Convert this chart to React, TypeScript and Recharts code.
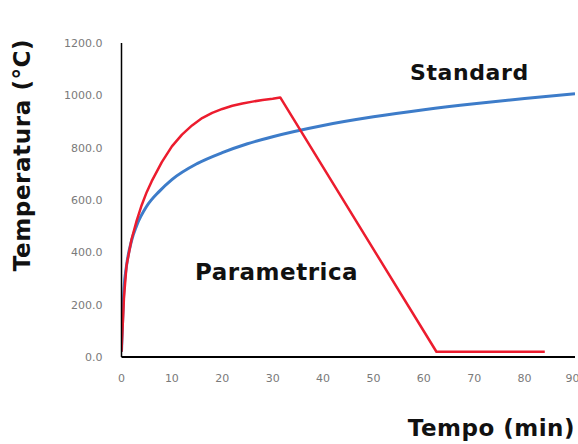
import React from "react";
import { LineChart, Line, XAxis, YAxis } from "recharts";

// Curva standard ISO (tempo in min, temperatura in °C)
const standardTime = [0, 0.5, 1, 2, 3, 5, 7.5, 10, 15, 20, 25, 30, 40, 50, 60, 70, 80, 90];
const standardTemp = [20, 261, 349, 445, 502, 576, 633, 678, 739, 781, 815, 842, 885, 918, 945, 968, 988, 1006];

// Curva parametrica
const paramTime = [0, 0.5, 1, 2, 3, 4, 5, 6, 8, 10, 12, 14, 16, 18, 20, 22, 24, 26, 28, 30, 31.5, 62.5, 84];
const paramTemp = [20, 230, 350, 450, 520, 580, 630, 672, 745, 805, 850, 885, 913, 933, 948, 960, 969, 976, 982, 987, 992, 20, 20];

const xTicks = [0, 10, 20, 30, 40, 50, 60, 70, 80, 90];
const yTicks = [0, 200, 400, 600, 800, 1000, 1200];

const standardData = standardTime.map((t, i) => ({ t, temp: standardTemp[i] }));
const paramData = paramTime.map((t, i) => ({ t, temp: paramTemp[i] }));

const tickStyle = { fill: "#7a7a7a", fontSize: 11, fontFamily: "DejaVu Sans" };
const labelFont = "DejaVu Sans";

export default function App() {
  return (
    <div style={{ position: "absolute", left: 0, top: 0, width: 578, height: 444, background: "#fff" }}>
      <LineChart width={578} height={444} margin={{ top: 43, right: 3, left: 0, bottom: 0 }}>
        <XAxis
          type="number"
          dataKey="t"
          domain={[0, 90]}
          ticks={xTicks}
          allowDataOverflow
          tick={tickStyle}
          tickLine={false}
          tickSize={0}
          tickMargin={17}
          height={87}
          axisLine={{ stroke: "#000", strokeWidth: 2 }}
        />
        <YAxis
          type="number"
          dataKey="temp"
          domain={[0, 1200]}
          ticks={yTicks}
          tickFormatter={(v: number) => v.toFixed(1)}
          tick={tickStyle}
          tickLine={false}
          tickSize={0}
          tickMargin={19}
          width={121.5}
          axisLine={{ stroke: "#000", strokeWidth: 1.5 }}
        />
        <Line
          data={standardData}
          dataKey="temp"
          type="monotone"
          stroke="#3d7cc9"
          strokeWidth={3}
          dot={false}
          isAnimationActive={false}
        />
        <Line
          data={paramData}
          dataKey="temp"
          type="linear"
          stroke="#ec1c2e"
          strokeWidth={2.5}
          strokeLinejoin="round"
          dot={false}
          isAnimationActive={false}
        />
      </LineChart>
      <svg width={578} height={444} style={{ position: "absolute", left: 0, top: 0, pointerEvents: "none" }}>
        <text
          x={22}
          y={155}
          transform="rotate(-90 22 155)"
          textAnchor="middle"
          dominantBaseline="central"
          fontFamily={labelFont}
          fontWeight="bold"
          fontSize={23}
          letterSpacing={0.6}
          fill="#111"
        >
          Temperatura (°C)
        </text>
        <text x={575} y={428} textAnchor="end" dominantBaseline="central" fontFamily={labelFont} fontWeight="bold" fontSize={23} letterSpacing={0.5} fill="#111">
          Tempo (min)
        </text>
        <text x={410} y={72} dominantBaseline="central" fontFamily={labelFont} fontWeight="bold" fontSize={22} letterSpacing={0.6} fill="#111">
          Standard
        </text>
        <text x={195} y={272} dominantBaseline="central" fontFamily={labelFont} fontWeight="bold" fontSize={23} letterSpacing={0.5} fill="#111">
          Parametrica
        </text>
      </svg>
    </div>
  );
}
